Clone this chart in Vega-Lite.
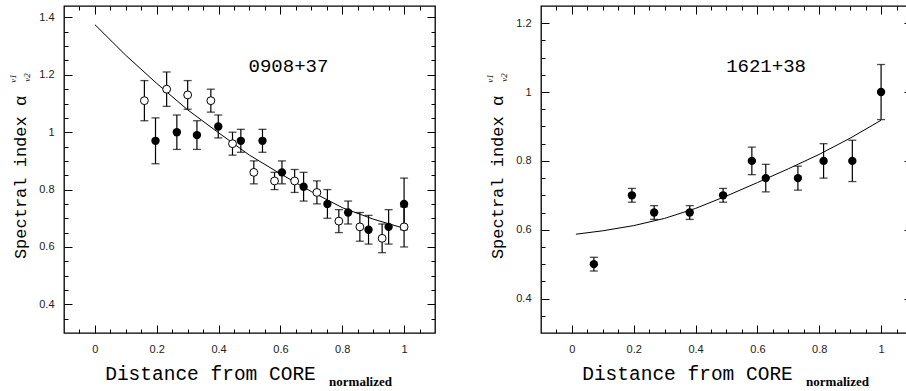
{
  "$schema": "https://vega.github.io/schema/vega-lite/v6.json",
  "autosize": {"type": "pad"},
  "padding": {"left": 7, "top": 4, "right": 0, "bottom": 0},
  "background": "white",
  "spacing": 106,
  "bounds": "flush",
  "config": {
    "view": {"stroke": "black", "strokeWidth": 1.3},
    "axis": {"grid": false, "domain": false, "labelFont": "Liberation Sans", "labelFontSize": 11, "labelColor": "#222", "tickColor": "black", "tickWidth": 1, "titleColor": "black", "titleFontWeight": "normal"}
  },
  "datasets": {
    "a": [
      {"d": 0.16, "s": 1.11, "lo": 1.04, "hi": 1.18, "t": "o"},
      {"d": 0.232, "s": 1.15, "lo": 1.09, "hi": 1.21, "t": "o"},
      {"d": 0.30, "s": 1.13, "lo": 1.08, "hi": 1.18, "t": "o"},
      {"d": 0.375, "s": 1.11, "lo": 1.07, "hi": 1.15, "t": "o"},
      {"d": 0.445, "s": 0.96, "lo": 0.92, "hi": 1.00, "t": "o"},
      {"d": 0.514, "s": 0.86, "lo": 0.82, "hi": 0.90, "t": "o"},
      {"d": 0.581, "s": 0.83, "lo": 0.80, "hi": 0.86, "t": "o"},
      {"d": 0.646, "s": 0.83, "lo": 0.79, "hi": 0.87, "t": "o"},
      {"d": 0.718, "s": 0.79, "lo": 0.75, "hi": 0.83, "t": "o"},
      {"d": 0.789, "s": 0.69, "lo": 0.65, "hi": 0.73, "t": "o"},
      {"d": 0.857, "s": 0.67, "lo": 0.62, "hi": 0.72, "t": "o"},
      {"d": 0.929, "s": 0.63, "lo": 0.58, "hi": 0.68, "t": "o"},
      {"d": 1.0, "s": 0.67, "lo": 0.60, "hi": 0.74, "t": "o"},
      {"d": 0.196, "s": 0.97, "lo": 0.89, "hi": 1.05, "t": "f"},
      {"d": 0.265, "s": 1.00, "lo": 0.94, "hi": 1.06, "t": "f"},
      {"d": 0.33, "s": 0.99, "lo": 0.94, "hi": 1.04, "t": "f"},
      {"d": 0.399, "s": 1.02, "lo": 0.98, "hi": 1.06, "t": "f"},
      {"d": 0.472, "s": 0.97, "lo": 0.93, "hi": 1.01, "t": "f"},
      {"d": 0.542, "s": 0.97, "lo": 0.93, "hi": 1.01, "t": "f"},
      {"d": 0.605, "s": 0.86, "lo": 0.82, "hi": 0.90, "t": "f"},
      {"d": 0.675, "s": 0.81, "lo": 0.76, "hi": 0.86, "t": "f"},
      {"d": 0.752, "s": 0.75, "lo": 0.70, "hi": 0.80, "t": "f"},
      {"d": 0.819, "s": 0.72, "lo": 0.68, "hi": 0.76, "t": "f"},
      {"d": 0.885, "s": 0.66, "lo": 0.61, "hi": 0.71, "t": "f"},
      {"d": 0.95, "s": 0.67, "lo": 0.61, "hi": 0.73, "t": "f"},
      {"d": 1.0, "s": 0.75, "lo": 0.66, "hi": 0.84, "t": "f"}
    ],
    "aline": [
      {"d": 0, "s": 1.375}, {"d": 0.1, "s": 1.268}, {"d": 0.2, "s": 1.17}, {"d": 0.3, "s": 1.078},
      {"d": 0.4, "s": 0.998}, {"d": 0.5, "s": 0.92}, {"d": 0.6, "s": 0.855}, {"d": 0.7, "s": 0.793},
      {"d": 0.8, "s": 0.737}, {"d": 0.9, "s": 0.697}, {"d": 1.0, "s": 0.665}
    ],
    "alabel": [{"d": 0.626, "s": 1.231, "name": "0908+37"}],
    "b": [
      {"d": 0.071, "s": 0.50, "lo": 0.48, "hi": 0.52},
      {"d": 0.194, "s": 0.70, "lo": 0.68, "hi": 0.72},
      {"d": 0.266, "s": 0.65, "lo": 0.63, "hi": 0.67},
      {"d": 0.381, "s": 0.65, "lo": 0.63, "hi": 0.67},
      {"d": 0.489, "s": 0.70, "lo": 0.68, "hi": 0.72},
      {"d": 0.582, "s": 0.80, "lo": 0.76, "hi": 0.84},
      {"d": 0.627, "s": 0.75, "lo": 0.71, "hi": 0.79},
      {"d": 0.731, "s": 0.75, "lo": 0.715, "hi": 0.785},
      {"d": 0.814, "s": 0.80, "lo": 0.75, "hi": 0.85},
      {"d": 0.907, "s": 0.80, "lo": 0.74, "hi": 0.86},
      {"d": 1.0, "s": 1.00, "lo": 0.92, "hi": 1.08}
    ],
    "bline": [
      {"d": 0.013, "s": 0.587}, {"d": 0.1, "s": 0.597}, {"d": 0.2, "s": 0.612}, {"d": 0.3, "s": 0.633},
      {"d": 0.4, "s": 0.662}, {"d": 0.5, "s": 0.698}, {"d": 0.6, "s": 0.737}, {"d": 0.7, "s": 0.777},
      {"d": 0.8, "s": 0.819}, {"d": 0.9, "s": 0.866}, {"d": 1.0, "s": 0.918}
    ],
    "blabel": [{"d": 0.628, "s": 1.076, "name": "1621+38"}]
  },
  "hconcat": [
    {
      "width": 371, "height": 327,
      "resolve": {"axis": {"x": "independent", "y": "independent"}},
      "layer": [
        {
          "data": {"name": "a"},
          "mark": {"type": "rule", "color": "black", "strokeWidth": 1.2},
          "encoding": {
            "x": {"field": "d", "type": "quantitative", "scale": {"domain": [-0.1, 1.1], "nice": false, "zero": false},
              "axis": {"orient": "bottom", "values": [0, 0.2, 0.4, 0.6, 0.8, 1], "format": "~g", "tickSize": -8, "labelPadding": 18,
                "title": "Distance from CORE", "titleFont": "Liberation Mono", "titleFontSize": 19.5, "titleX": 146, "titleY": 46, "titleBaseline": "alphabetic", "titleAlign": "center"}},
            "y": {"field": "lo", "type": "quantitative", "scale": {"domain": [0.3, 1.44], "nice": false, "zero": false},
              "axis": {"orient": "left", "values": [0.4, 0.6, 0.8, 1, 1.2, 1.4], "format": "~g", "tickSize": -8, "labelPadding": 18,
                "title": "Spectral index   α", "titleFont": "Liberation Mono", "titleFontSize": 17, "titleAngle": -90, "titleX": -39, "titleY": 171, "titleBaseline": "alphabetic", "titleAlign": "center"}},
            "y2": {"field": "hi"}
          }
        },
        {
          "data": {"name": "a"},
          "mark": {"type": "tick", "orient": "horizontal", "color": "black", "size": 8, "thickness": 1.3},
          "encoding": {
            "x": {"field": "d", "type": "quantitative", "scale": {"domain": [-0.1, 1.1], "nice": false, "zero": false},
              "axis": {"orient": "bottom", "values": [-0.05, 0.05, 0.1, 0.15, 0.25, 0.3, 0.35, 0.45, 0.5, 0.55, 0.65, 0.7, 0.75, 0.85, 0.9, 0.95, 1.05], "tickSize": -4, "labels": false, "title": null}},
            "y": {"field": "hi", "type": "quantitative", "scale": {"domain": [0.3, 1.44], "nice": false, "zero": false},
              "axis": {"orient": "left", "values": [0.35, 0.45, 0.5, 0.55, 0.65, 0.7, 0.75, 0.85, 0.9, 0.95, 1.05, 1.1, 1.15, 1.25, 1.3, 1.35], "tickSize": -4, "labels": false, "title": null}}
          }
        },
        {
          "data": {"name": "a"},
          "mark": {"type": "tick", "orient": "horizontal", "color": "black", "size": 8, "thickness": 1.3},
          "encoding": {
            "x": {"field": "d", "type": "quantitative", "scale": {"domain": [-0.1, 1.1], "nice": false, "zero": false},
              "axis": {"orient": "top", "values": [0, 0.2, 0.4, 0.6, 0.8, 1], "tickSize": -8, "labels": false, "title": null}},
            "y": {"field": "lo", "type": "quantitative", "scale": {"domain": [0.3, 1.44], "nice": false, "zero": false},
              "axis": {"orient": "right", "values": [0.4, 0.6, 0.8, 1, 1.2, 1.4], "tickSize": -8, "labels": false, "title": null}}
          }
        },
        {
          "data": {"name": "aline"},
          "mark": {"type": "line", "color": "black", "strokeWidth": 1},
          "encoding": {
            "x": {"field": "d", "type": "quantitative", "scale": {"domain": [-0.1, 1.1], "nice": false, "zero": false},
              "axis": {"orient": "top", "values": [-0.05, 0.05, 0.1, 0.15, 0.25, 0.3, 0.35, 0.45, 0.5, 0.55, 0.65, 0.7, 0.75, 0.85, 0.9, 0.95, 1.05], "tickSize": -4, "labels": false, "title": null}},
            "y": {"field": "s", "type": "quantitative", "scale": {"domain": [0.3, 1.44], "nice": false, "zero": false},
              "axis": {"orient": "right", "values": [0.35, 0.45, 0.5, 0.55, 0.65, 0.7, 0.75, 0.85, 0.9, 0.95, 1.05, 1.1, 1.15, 1.25, 1.3, 1.35], "tickSize": -4, "labels": false, "title": null}}
          }
        },
        {
          "data": {"name": "a"},
          "transform": [{"filter": "datum.t === 'f'"}],
          "mark": {"type": "point", "filled": true, "color": "black", "size": 70, "opacity": 1},
          "encoding": {
            "x": {"field": "d", "type": "quantitative", "scale": {"domain": [-0.1, 1.1], "nice": false, "zero": false},
              "axis": {"orient": "bottom", "ticks": false, "labels": false, "title": "normalized", "titleFont": "Liberation Serif", "titleFontWeight": "bold", "titleFontSize": 13, "titleX": 296, "titleY": 52, "titleBaseline": "alphabetic", "titleAlign": "center"}},
            "y": {"field": "s", "type": "quantitative", "scale": {"domain": [0.3, 1.44], "nice": false, "zero": false},
              "axis": {"orient": "left", "ticks": false, "labels": false, "title": "ν1", "titleFont": "Liberation Serif", "titleFontStyle": "italic", "titleFontSize": 9, "titleAngle": -90, "titleX": -52, "titleY": 72, "titleBaseline": "middle", "titleAlign": "center"}}
          }
        },
        {
          "data": {"name": "a"},
          "transform": [{"filter": "datum.t === 'o'"}],
          "mark": {"type": "point", "filled": true, "fill": "white", "stroke": "black", "strokeWidth": 1, "size": 62, "opacity": 1},
          "encoding": {
            "x": {"field": "d", "type": "quantitative", "scale": {"domain": [-0.1, 1.1], "nice": false, "zero": false}, "axis": null},
            "y": {"field": "s", "type": "quantitative", "scale": {"domain": [0.3, 1.44], "nice": false, "zero": false},
              "axis": {"orient": "left", "ticks": false, "labels": false, "title": "ν2", "titleFont": "Liberation Serif", "titleFontStyle": "italic", "titleFontSize": 9, "titleAngle": -90, "titleX": -38, "titleY": 71, "titleBaseline": "middle", "titleAlign": "center"}}
          }
        },
        {
          "data": {"name": "alabel"},
          "mark": {"type": "text", "font": "Liberation Mono", "fontSize": 19, "color": "black", "align": "center", "baseline": "middle"},
          "encoding": {
            "x": {"field": "d", "type": "quantitative", "scale": {"domain": [-0.1, 1.1], "nice": false, "zero": false}, "axis": null},
            "y": {"field": "s", "type": "quantitative", "scale": {"domain": [0.3, 1.44], "nice": false, "zero": false}, "axis": null},
            "text": {"field": "name"}
          }
        }
      ]
    },
    {
      "width": 371, "height": 327,
      "resolve": {"axis": {"x": "independent", "y": "independent"}},
      "layer": [
        {
          "data": {"name": "b"},
          "mark": {"type": "rule", "color": "black", "strokeWidth": 1.2},
          "encoding": {
            "x": {"field": "d", "type": "quantitative", "scale": {"domain": [-0.1, 1.1], "nice": false, "zero": false},
              "axis": {"orient": "bottom", "values": [0, 0.2, 0.4, 0.6, 0.8, 1], "format": "~g", "tickSize": -8, "labelPadding": 18,
                "title": "Distance from CORE", "titleFont": "Liberation Mono", "titleFontSize": 19.5, "titleX": 146, "titleY": 46, "titleBaseline": "alphabetic", "titleAlign": "center"}},
            "y": {"field": "lo", "type": "quantitative", "scale": {"domain": [0.3, 1.25], "nice": false, "zero": false},
              "axis": {"orient": "left", "values": [0.4, 0.6, 0.8, 1, 1.2], "format": "~g", "tickSize": -8, "labelPadding": 18,
                "title": "Spectral index   α", "titleFont": "Liberation Mono", "titleFontSize": 17, "titleAngle": -90, "titleX": -39, "titleY": 171, "titleBaseline": "alphabetic", "titleAlign": "center"}},
            "y2": {"field": "hi"}
          }
        },
        {
          "data": {"name": "b"},
          "mark": {"type": "tick", "orient": "horizontal", "color": "black", "size": 8, "thickness": 1.3},
          "encoding": {
            "x": {"field": "d", "type": "quantitative", "scale": {"domain": [-0.1, 1.1], "nice": false, "zero": false},
              "axis": {"orient": "bottom", "values": [-0.05, 0.05, 0.1, 0.15, 0.25, 0.3, 0.35, 0.45, 0.5, 0.55, 0.65, 0.7, 0.75, 0.85, 0.9, 0.95, 1.05], "tickSize": -4, "labels": false, "title": null}},
            "y": {"field": "hi", "type": "quantitative", "scale": {"domain": [0.3, 1.25], "nice": false, "zero": false},
              "axis": {"orient": "left", "values": [0.35, 0.45, 0.5, 0.55, 0.65, 0.7, 0.75, 0.85, 0.9, 0.95, 1.05, 1.1, 1.15], "tickSize": -4, "labels": false, "title": null}}
          }
        },
        {
          "data": {"name": "b"},
          "mark": {"type": "tick", "orient": "horizontal", "color": "black", "size": 8, "thickness": 1.3},
          "encoding": {
            "x": {"field": "d", "type": "quantitative", "scale": {"domain": [-0.1, 1.1], "nice": false, "zero": false},
              "axis": {"orient": "top", "values": [0, 0.2, 0.4, 0.6, 0.8, 1], "tickSize": -8, "labels": false, "title": null}},
            "y": {"field": "lo", "type": "quantitative", "scale": {"domain": [0.3, 1.25], "nice": false, "zero": false},
              "axis": {"orient": "right", "values": [0.4, 0.6, 0.8, 1, 1.2], "tickSize": -8, "labels": false, "title": null}}
          }
        },
        {
          "data": {"name": "bline"},
          "mark": {"type": "line", "color": "black", "strokeWidth": 1},
          "encoding": {
            "x": {"field": "d", "type": "quantitative", "scale": {"domain": [-0.1, 1.1], "nice": false, "zero": false},
              "axis": {"orient": "top", "values": [-0.05, 0.05, 0.1, 0.15, 0.25, 0.3, 0.35, 0.45, 0.5, 0.55, 0.65, 0.7, 0.75, 0.85, 0.9, 0.95, 1.05], "tickSize": -4, "labels": false, "title": null}},
            "y": {"field": "s", "type": "quantitative", "scale": {"domain": [0.3, 1.25], "nice": false, "zero": false},
              "axis": {"orient": "right", "values": [0.35, 0.45, 0.5, 0.55, 0.65, 0.7, 0.75, 0.85, 0.9, 0.95, 1.05, 1.1, 1.15], "tickSize": -4, "labels": false, "title": null}}
          }
        },
        {
          "data": {"name": "b"},
          "mark": {"type": "point", "filled": true, "color": "black", "size": 70, "opacity": 1},
          "encoding": {
            "x": {"field": "d", "type": "quantitative", "scale": {"domain": [-0.1, 1.1], "nice": false, "zero": false},
              "axis": {"orient": "bottom", "ticks": false, "labels": false, "title": "normalized", "titleFont": "Liberation Serif", "titleFontWeight": "bold", "titleFontSize": 13, "titleX": 296, "titleY": 52, "titleBaseline": "alphabetic", "titleAlign": "center"}},
            "y": {"field": "s", "type": "quantitative", "scale": {"domain": [0.3, 1.25], "nice": false, "zero": false},
              "axis": {"orient": "left", "ticks": false, "labels": false, "title": "ν1", "titleFont": "Liberation Serif", "titleFontStyle": "italic", "titleFontSize": 9, "titleAngle": -90, "titleX": -52, "titleY": 72, "titleBaseline": "middle", "titleAlign": "center"}}
          }
        },
        {
          "data": {"name": "blabel"},
          "mark": {"type": "text", "font": "Liberation Mono", "fontSize": 19, "color": "black", "align": "center", "baseline": "middle"},
          "encoding": {
            "x": {"field": "d", "type": "quantitative", "scale": {"domain": [-0.1, 1.1], "nice": false, "zero": false}, "axis": null},
            "y": {"field": "s", "type": "quantitative", "scale": {"domain": [0.3, 1.25], "nice": false, "zero": false},
              "axis": {"orient": "left", "ticks": false, "labels": false, "title": "ν2", "titleFont": "Liberation Serif", "titleFontStyle": "italic", "titleFontSize": 9, "titleAngle": -90, "titleX": -38, "titleY": 71, "titleBaseline": "middle", "titleAlign": "center"}},
            "text": {"field": "name"}
          }
        }
      ]
    }
  ]
}
